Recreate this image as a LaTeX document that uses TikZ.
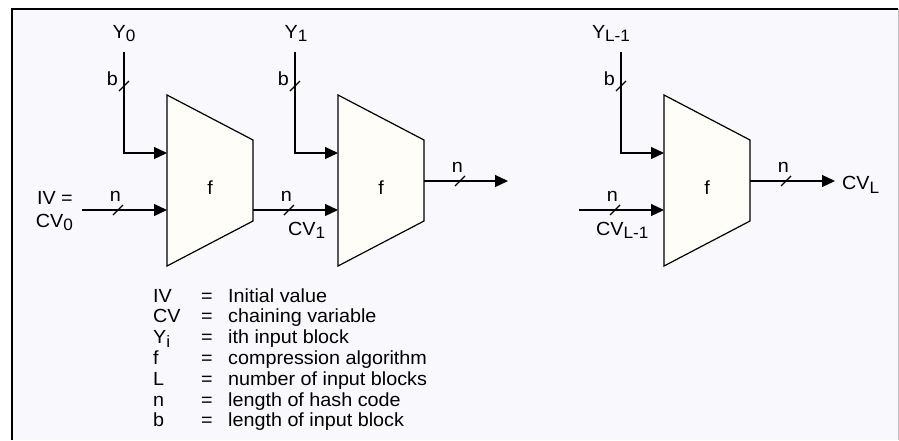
\documentclass[tikz,border=0pt]{standalone}
\usepackage{fontspec}
\setmainfont[FakeStretch=1.04]{Liberation Sans}
\usetikzlibrary{arrows.meta}
\definecolor{panel}{HTML}{F8F8FD}
\definecolor{boxfill}{HTML}{FFFDF7}
\newcommand\lowsub[1]{\raisebox{-0.35ex}{\fontsize{16.5}{16.5}\selectfont #1}}

\begin{document}
\begin{tikzpicture}[x=1pt,y=-1pt,>={Triangle[length=13pt,width=12pt]},
 wire/.style={line width=1.2pt},
 fbox/.style={draw,line width=1.2pt,fill=boxfill},
 lab/.style={font=\fontsize{19}{19}\selectfont,inner sep=0pt},
 slash/.pic={\draw[line width=1.2pt] (-5,5)--(5,-5);}]
\useasboundingbox (0,0) rectangle (899,440);
\fill[white] (0,0) rectangle (899,440);
\fill[panel] (12,9) rectangle (898,440);
\draw[line width=1.3pt] (12,440) -- (12,9) -- (898,9);
\draw[gray!50] (898,9) -- (898,440);

% compression blocks
\foreach \xl/\nm in {167/f1,338/f2,664/f3} {
 \draw[fbox] (\xl,95) -- (\xl+86,140) -- (\xl+86,221) -- (\xl,266) -- cycle;
 \node[lab] (\nm) at (\xl+43,188) {f};
 \coordinate (\nm-top) at (\xl,153);
 \coordinate (\nm-bot) at (\xl,210);
 \coordinate (\nm-out) at (\xl+86,181);
 \coordinate (\nm-outlow) at (\xl+86,210);
 \coordinate (\nm-y) at (\xl-43,52);
}

% message blocks Y_i
\foreach \nm/\ylab/\dx in {f1/Y\lowsub{0}/0,f2/Y\lowsub{1}/1,f3/Y\lowsub{L-1}/-10} {
 \node[lab,anchor=base] (\nm-ylab) at ([xshift=\dx pt,yshift=14pt]\nm-y) {\ylab};
 \draw[wire,->] (\nm-y) |- (\nm-top);
 \pic at ([yshift=-34pt]\nm-y) {slash};
 \node[lab,anchor=base east] (\nm-b) at ([xshift=-6pt,yshift=-33pt]\nm-y) {b};
}

% chaining inputs
\coordinate (iv) at (82,210);
\coordinate (cvin) at (579,210);
\draw[wire,->] (iv) -- (f1-bot);
\draw[wire,->] (f1-outlow) -- (f2-bot);
\draw[wire,->] (cvin) -- (f3-bot);
\foreach \nm in {f1,f2,f3} {
 \pic at ([xshift=-49pt]\nm-bot) {slash};
 \node[lab,anchor=base east] (\nm-n) at ([xshift=-46pt,yshift=9pt]\nm-bot) {n};
}

% outputs
\coordinate (f2-end) at (508,181);
\coordinate (f3-end) at (835,181);
\foreach \nm in {f2,f3} {
 \draw[wire,->] (\nm-out) -- (\nm-end);
 \pic at ([xshift=36pt]\nm-out) {slash};
 \node[lab,anchor=base east] (\nm-on) at ([xshift=39pt,yshift=9pt]\nm-out) {n};
}

\node[lab,font=\fontsize{19}{23}\selectfont,align=right,anchor=east] (ivlab) at (73,211) {IV =\\CV\lowsub{0}};
\node[lab,anchor=north west] (cv1) at (288,222) {CV\lowsub{1}};
\node[lab,anchor=north west] (cvl1) at (596,222) {CV\lowsub{L-1}};
\node[lab,anchor=west] (cvl) at (842,185) {CV\lowsub{L}};

% legend
\foreach \k/\d [count=\i from 0] in {IV/Initial value,CV/chaining variable,
 Y\lowsub{i}/ith input block,f/compression algorithm,L/number of input blocks,
 n/length of hash code,b/length of input block} {
 \node[lab,anchor=base west] (key\i) at (153,{302+20.8*\i}) {\k};
 \node[lab,anchor=base] (eq\i) at (207,{302+20.8*\i}) {=};
 \node[lab,anchor=base west] (desc\i) at (228,{302+20.8*\i}) {\d};
}
\end{tikzpicture}
\end{document}
